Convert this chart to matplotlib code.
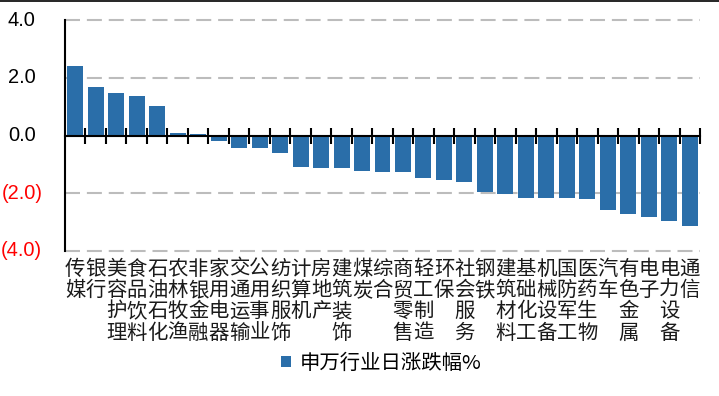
import matplotlib
matplotlib.use("Agg")
import matplotlib.pyplot as plt
from matplotlib.lines import Line2D
from matplotlib.patches import Patch
import matplotlib.transforms as mtransforms

plt.rcParams['font.family'] = ['Noto Sans CJK SC', 'DejaVu Sans']

categories = ["传媒", "银行", "美容护理", "食品饮料", "石油石化", "农林牧渔", "非银金融",
              "家用电器", "交通运输", "公用事业", "纺织服饰", "计算机", "房地产", "建筑装饰",
              "煤炭", "综合", "商贸零售", "轻工制造", "环保", "社会服务", "钢铁", "建筑材料",
              "基础化工", "机械设备", "国防军工", "医药生物", "汽车", "有色金属", "电子",
              "电力设备", "通信"]
values = [2.40, 1.67, 1.47, 1.36, 1.02, 0.08, 0.04, -0.19, -0.43, -0.43, -0.61,
          -1.09, -1.12, -1.12, -1.24, -1.27, -1.27, -1.48, -1.55, -1.62, -1.97,
          -2.04, -2.18, -2.18, -2.18, -2.21, -2.59, -2.73, -2.83, -2.97, -3.14]
yticks = [-4.0, -2.0, 0.0, 2.0, 4.0]
series_name = "申万行业日涨跌幅%"

BAR = '#2A6EA9'
W, H, DPI = 719, 396, 100
fig = plt.figure(figsize=(W / DPI, H / DPI), dpi=DPI)
ax = fig.add_axes([65 / W, 1 - 251 / H, (700 - 65) / W, (251 - 20) / H])

x = list(range(len(categories)))
ax.bar(x, values, width=0.78, color=BAR, zorder=3)

ax.set_xlim(-0.5, len(categories) - 0.5)
ax.set_ylim(-4, 4)

# y ticks & dashed gridlines
ax.set_yticks(yticks)
ax.set_yticklabels([])
ax.tick_params(axis='y', length=0)
ax.set_axisbelow(True)
ax.yaxis.grid(True, color='#BCBCBC', linewidth=1.5, linestyle='--', dashes=(7.2, 3.3))
ax.xaxis.grid(False)
for gl in ax.get_ygridlines():
    gl.set_clip_on(False)

# spines
for s in ['top', 'right']:
    ax.spines[s].set_visible(False)
ax.spines['left'].set_linewidth(1.5)
ax.spines['left'].set_color('black')
ax.spines['left'].set_zorder(5)
ax.spines['bottom'].set_position(('data', 0))
ax.spines['bottom'].set_linewidth(1.5)
ax.spines['bottom'].set_zorder(5)

# category boundary ticks crossing the zero line
bounds = [i + 0.5 for i in range(len(categories))]
ax.set_xticks(bounds)
ax.set_xticklabels([])
ax.tick_params(axis='x', direction='inout', length=11, width=1.5, color='black')

# y tick labels (accounting format: negatives red in parentheses)
ytrans = mtransforms.blended_transform_factory(fig.transFigure, ax.transData)
for v in yticks:
    if v < 0:
        ax.text(42.3 / W, v, '({:.1f})'.format(abs(v)), transform=ytrans, ha='right',
                va='center', color='red', fontfamily='Liberation Sans', fontsize=14.4)
    else:
        ax.text(35.6 / W, v, '{:.1f}'.format(v), transform=ytrans, ha='right',
                va='center', color='black', fontfamily='Liberation Sans', fontsize=14.4)

# vertical stacked category labels
xtrans = ax.get_xaxis_transform()
for i, cat in enumerate(categories):
    for j, ch in enumerate(cat):
        ax.annotate(ch, xy=(i, 0), xycoords=xtrans,
                    xytext=(0, -13.0 - j * 15.4), textcoords='offset points',
                    ha='center', va='center', fontsize=14.7, color='#1a1a1a',
                    annotation_clip=False)

# legend
handle = Patch(facecolor=BAR, edgecolor='none')
fig.legend([handle], [series_name], loc='center', bbox_to_anchor=(381.5 / W, 1 - 363 / H),
           frameon=False, fontsize=14.7, handlelength=0.46, handleheight=0.46,
           handletextpad=0.45, borderaxespad=0, borderpad=0)

# top border line
fig.add_artist(Line2D([0, 1], [1 - 0.8 / H, 1 - 0.8 / H], transform=fig.transFigure,
                      color='black', lw=1.2))

fig.savefig('out.png', dpi=DPI)
